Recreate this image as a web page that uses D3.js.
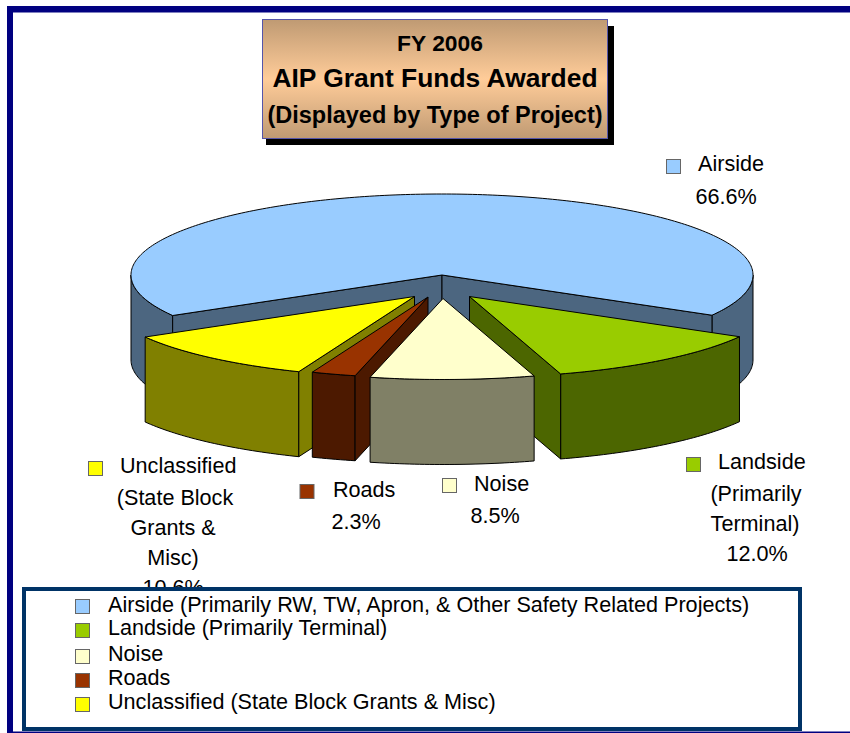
<!DOCTYPE html>
<html>
<head>
<meta charset="utf-8">
<script src="https://cdn.jsdelivr.net/npm/d3@7"></script>
<style>
html,body{margin:0;padding:0;background:#fff;overflow:hidden}
text{font-family:"Liberation Sans",Arial,sans-serif;fill:#000}
</style>
</head>
<body>
<svg id="c" width="850" height="733"></svg>
<script>
const categories = ["Airside","Landside","Noise","Roads","Unclassified"];
const shares = [66.6,12.0,8.5,2.3,10.6];
const legendLabels = [
  "Airside (Primarily RW, TW, Apron, & Other Safety Related Projects)",
  "Landside (Primarily Terminal)",
  "Noise",
  "Roads",
  "Unclassified (State Block Grants & Misc)"
];
const titleLines = ["FY 2006","AIP Grant Funds Awarded","(Displayed by Type of Project)"];
const calloutLines = [
  ["Airside","66.6%"],
  ["Landside","(Primarily","Terminal)","12.0%"],
  ["Noise","8.5%"],
  ["Roads","2.3%"],
  ["Unclassified","(State Block","Grants &","Misc)","10.6%"]
];
const topColors  = ["#99CCFF","#99CC00","#FFFFCC","#993300","#FFFF00"];
const sideColors = ["#4C6680","#4C6600","#808066","#4C1900","#808000"];

// layout
const cx = 442, cy = 275, rx = 311, ry = 81, depth = 85;
const explodeX = [0,27.5,1,-14,-27.5], explodeY = [0,21.5,23.5,22,21.5];
const paintOrder = [0,1,4,3,2];
const calloutLayout = [
  {sx:666,sy:159,tx:698,ys:[171,204],centers:[0,726]},
  {sx:686,sy:457,tx:718,ys:[469,501,531,561],centers:[0,756,755,757]},
  {sx:442,sy:478,tx:474,ys:[491,523],centers:[0,495]},
  {sx:299.5,sy:484,tx:333,ys:[497,529],centers:[0,356]},
  {sx:88,sy:461,tx:120,ys:[473,505,535,565,595],centers:[0,175,173,173,173]}
];

const svg = d3.select("#c");
const defs = svg.append("defs");
const grad = defs.append("linearGradient").attr("id","tg").attr("x1",0).attr("y1",0).attr("x2",0).attr("y2",1);
[[0,"#BF9A73"],[0.5,"#FFCC99"],[1,"#BF9A73"]].forEach(s=>grad.append("stop").attr("offset",s[0]).attr("stop-color",s[1]));

// frame
svg.append("rect").attr("x",7).attr("y",6).attr("width",843).attr("height",6.5).attr("fill","#000080");
svg.append("rect").attr("x",7).attr("y",6).attr("width",6).attr("height",727).attr("fill","#000080");
svg.append("rect").attr("x",7).attr("y",731.5).attr("width",843).attr("height",1.5).attr("fill","#000080");

// title
svg.append("rect").attr("x",266).attr("y",26).attr("width",348).attr("height",119).attr("fill","#000");
svg.append("rect").attr("x",262.5).attr("y",19.5).attr("width",345).attr("height",119)
  .attr("fill","url(#tg)").attr("stroke","#5555AA").attr("stroke-width",1);
const titleStyle = [{x:440,y:51,s:22.8},{x:435,y:87,s:26.4},{x:435,y:123,s:23.5}];
svg.selectAll(".title").data(titleLines).join("text").attr("class","title")
  .attr("x",(d,i)=>titleStyle[i].x).attr("y",(d,i)=>titleStyle[i].y).attr("text-anchor","middle")
  .attr("font-weight","bold").attr("font-size",(d,i)=>titleStyle[i].s).text(d=>d);

// pie
const pie = d3.pie().sort(null).startAngle(-120*Math.PI/180).endAngle(240*Math.PI/180);
const arcs = pie(shares);
const ux = d3.scaleLinear().domain([-1,1]).range([cx-rx,cx+rx]);
const uy = d3.scaleLinear().domain([-1,1]).range([cy-ry,cy+ry]);
const line = d3.line().x(p=>p[0]).y(p=>p[1]);
const rim = (a,i,d=0)=>[ux(Math.sin(a))+explodeX[i], uy(-Math.cos(a))+explodeY[i]+d];
const hub = (i,d=0)=>[ux(0)+explodeX[i], uy(0)+explodeY[i]+d];
const sweep = (a0,a1,i,d=0)=>{
  const n = Math.max(2,Math.ceil(Math.abs(a1-a0)*60));
  return d3.range(n+1).map(k=>rim(a0+(a1-a0)*k/n,i,d));
};
const closed = pts => line(pts)+"Z";
const g = svg.append("g").attr("stroke","#000").attr("stroke-width",1).attr("stroke-linejoin","round");
paintOrder.forEach(i=>{
  const a = arcs[i], s=a.startAngle, e=a.endAngle, side=sideColors[i];
  const PI=Math.PI;
  [[PI/2,3*PI/2],[-3*PI/2,-PI/2]].forEach(w=>{
    const a0=Math.max(s,w[0]), a1=Math.min(e,w[1]);
    if(a1>a0){
      g.append("path").attr("fill",side)
       .attr("d",closed(sweep(a0,a1,i).concat(sweep(a1,a0,i,depth))));
    }
  });
  if(Math.sin(s)<0) g.append("path").attr("fill",side)
    .attr("d",closed([hub(i),rim(s,i),rim(s,i,depth),hub(i,depth)]));
  if(Math.sin(e)>0) g.append("path").attr("fill",side)
    .attr("d",closed([hub(i),rim(e,i),rim(e,i,depth),hub(i,depth)]));
  g.append("path").attr("fill",topColors[i])
    .attr("d",closed([hub(i)].concat(sweep(s,e,i))));
});

// legend box
svg.append("rect").attr("x",24).attr("y",589).attr("width",776).attr("height",140)
  .attr("fill","#fff").attr("stroke","#003366").attr("stroke-width",4);

// callouts
const callouts = svg.append("g");
const clipped = defs.append("clipPath").attr("id","above");
clipped.append("rect").attr("x",0).attr("y",0).attr("width",850).attr("height",587);
calloutLines.forEach((lines,i)=>{
  const l = calloutLayout[i];
  callouts.append("rect").attr("x",l.sx+.5).attr("y",l.sy+.5).attr("width",14).attr("height",14)
    .attr("fill",topColors[i]).attr("stroke","#666").attr("stroke-width",1);
  const gg = callouts.append("g").attr("clip-path","url(#above)");
  gg.selectAll("text").data(lines).join("text")
    .attr("x",(d,k)=>k===0?l.tx:l.centers[k])
    .attr("y",(d,k)=>l.ys[k])
    .attr("text-anchor",(d,k)=>k===0?"start":"middle")
    .attr("font-size",21.6).text(d=>d);
});

// legend rows
const rowSw = [599,623,649,673,697], rowTx=[612,635,661,685,709];
const rows = svg.append("g");
legendLabels.forEach((t,i)=>{
  rows.append("rect").attr("x",75.5).attr("y",rowSw[i]+.5).attr("width",14).attr("height",14)
    .attr("fill",topColors[i]).attr("stroke","#666");
  rows.append("text").attr("x",108).attr("y",rowTx[i]).attr("font-size",21.6).text(t);
});
</script>
</body>
</html>
